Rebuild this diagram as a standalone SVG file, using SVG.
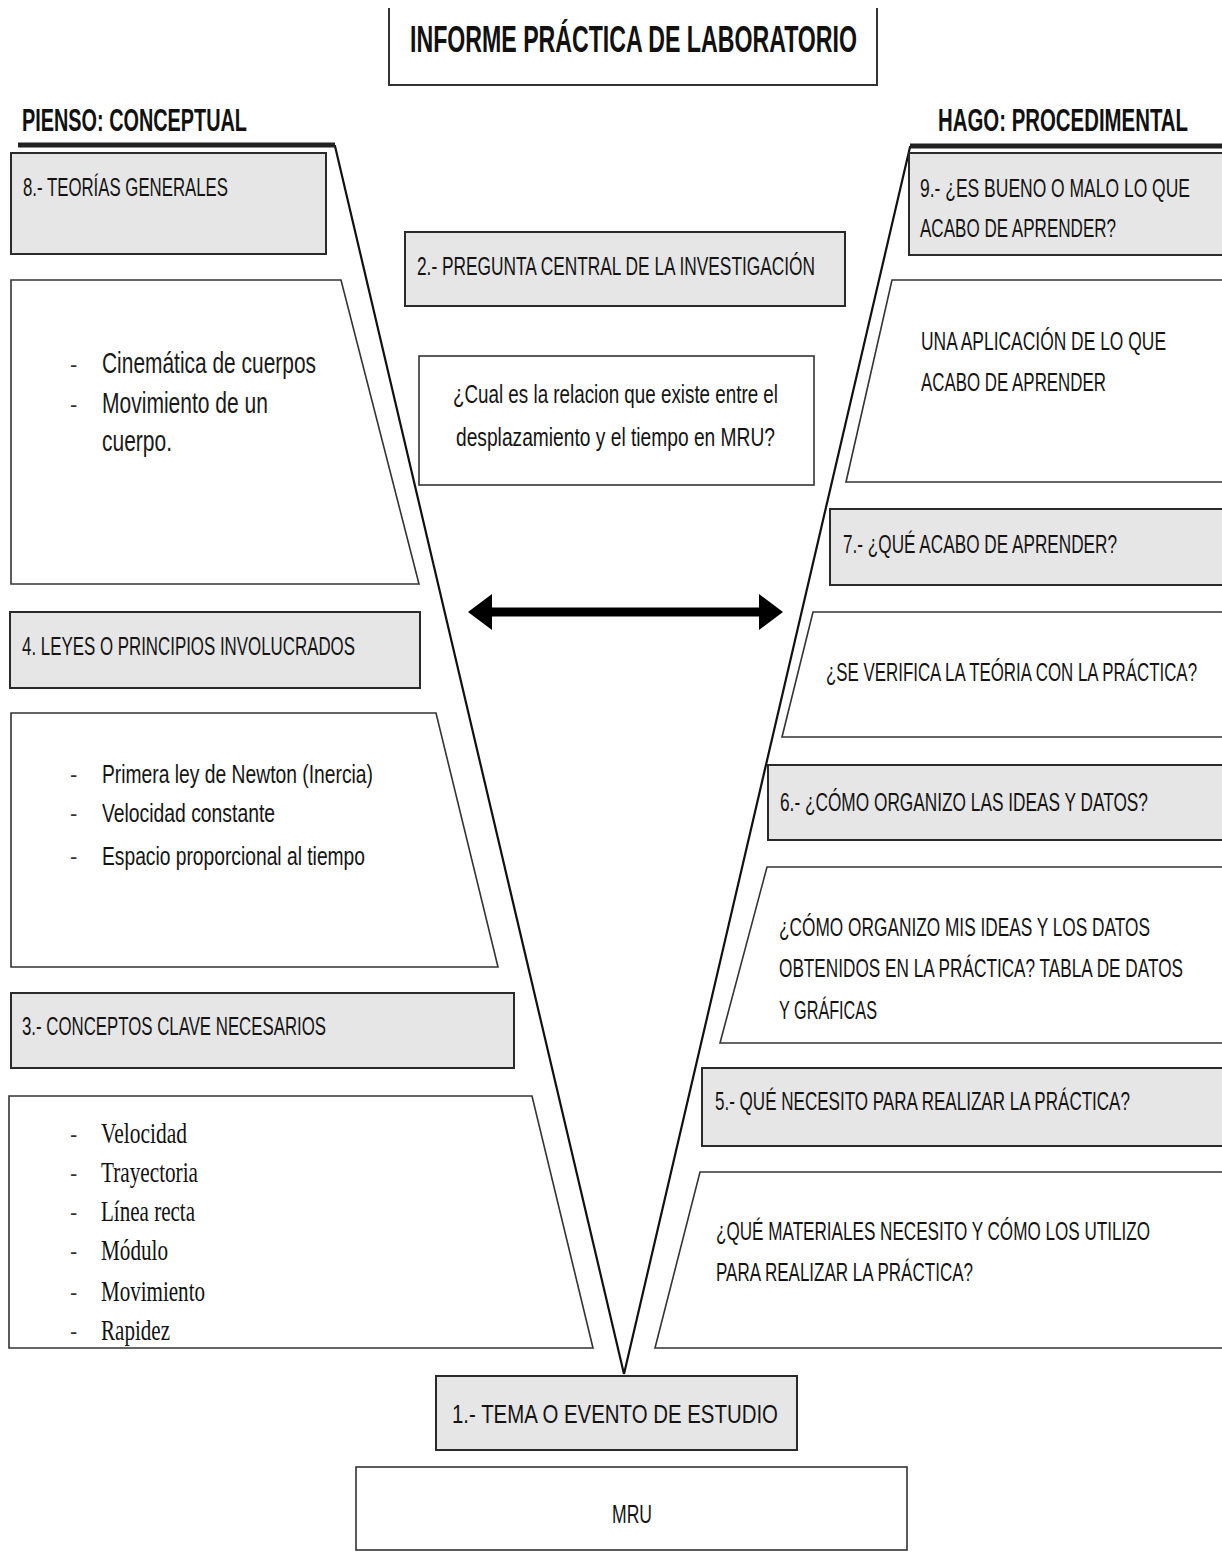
<svg xmlns="http://www.w3.org/2000/svg" width="1222" height="1553" viewBox="0 0 1222 1553">
<style>
.hdr{fill:#e6e6e6;stroke:#2a2a2a;stroke-width:2}
.box{fill:#ffffff;stroke:#333333;stroke-width:1.6}
.t{font-family:"Liberation Sans Narrow","Liberation Sans",Arial,sans-serif;font-size:25px;fill:#141414}
.tr{font-family:"Liberation Sans",Arial,sans-serif;font-size:25px;fill:#141414}
.tb{font-family:"Liberation Sans Narrow","Liberation Sans",Arial,sans-serif;font-weight:bold;fill:#111}
.tbr{font-family:"Liberation Sans",Arial,sans-serif;font-weight:bold;fill:#111}
.ta{font-family:"Liberation Sans Narrow","Liberation Sans",Arial,sans-serif;font-size:30px;fill:#1a1a1a}
.ts{font-family:"Liberation Serif","Times New Roman",serif;font-size:30px;fill:#111}
.bul{font-family:"Liberation Sans",Arial,sans-serif;font-size:22px;fill:#333}
.v{fill:none;stroke:#111;stroke-width:2.2}
</style>
<defs>
<marker id="head" viewBox="0 0 24 36" refX="0" refY="18" markerWidth="24" markerHeight="36" markerUnits="userSpaceOnUse" orient="auto-start-reverse">
<path d="M0,0 L24,18 L0,36 Z" fill="#000"/>
</marker>
</defs>
<rect width="1222" height="1553" fill="#fff"/>

<g id="title">
<path d="M389,8 V85 H877 V8" fill="none" stroke="#333" stroke-width="2"/>
<text class="tb" x="410" y="52" font-size="37" textLength="447" lengthAdjust="spacingAndGlyphs">INFORME PRÁCTICA DE LABORATORIO</text>
</g>
<g id="pienso">
<text class="tb" x="22" y="131" font-size="32" textLength="225" lengthAdjust="spacingAndGlyphs">PIENSO: CONCEPTUAL</text>
</g>
<g id="hago">
<text class="tbr" transform="translate(938,131) scale(0.633,1)" x="0" y="0" font-size="32" textLength="395" lengthAdjust="spacingAndGlyphs">HAGO: PROCEDIMENTAL</text>
</g>

<g id="connectors">
<path class="v" d="M18,146 H335 L624,1374"/>
<path class="v" d="M1224,147 H910 L624,1374"/>
<line x1="18" y1="145" x2="335" y2="145" stroke="#222" stroke-width="5"/>
<line x1="910" y1="146" x2="1224" y2="146" stroke="#222" stroke-width="5"/>
<line x1="492" y1="612" x2="759" y2="612" stroke="#000" stroke-width="9" marker-start="url(#head)" marker-end="url(#head)"/>
</g>

<g id="n8">
<rect class="hdr" x="11" y="153" width="315" height="101"/>
<text class="t" x="23" y="196" textLength="205" lengthAdjust="spacingAndGlyphs">8.- TEORÍAS GENERALES</text>
</g>
<g id="n8c">
<path class="box" d="M11,280 H341 L419,584 H11 Z"/>
<text class="bul" x="70" y="372">-</text>
<text class="ta" x="102" y="373" textLength="214" lengthAdjust="spacingAndGlyphs">Cinemática de cuerpos</text>
<text class="bul" x="70" y="412">-</text>
<text class="ta" x="102" y="413" textLength="166" lengthAdjust="spacingAndGlyphs">Movimiento de un</text>
<text class="ta" x="102" y="451" textLength="70" lengthAdjust="spacingAndGlyphs">cuerpo.</text>
</g>

<g id="n2">
<rect class="hdr" x="405" y="232" width="440" height="74"/>
<text class="t" x="417" y="275" textLength="398" lengthAdjust="spacingAndGlyphs">2.- PREGUNTA CENTRAL DE LA INVESTIGACIÓN</text>
</g>
<g id="n2c">
<rect class="box" x="419" y="356" width="395" height="129"/>
<text class="t" x="453" y="403" textLength="325" lengthAdjust="spacingAndGlyphs">¿Cual es la relacion que existe entre el</text>
<text class="t" x="456" y="446" textLength="319" lengthAdjust="spacingAndGlyphs">desplazamiento y el tiempo en MRU?</text>
</g>

<g id="n9">
<rect class="hdr" x="909" y="153" width="316" height="102"/>
<text class="tr" transform="translate(920,197) scale(0.69,1)" x="0" y="0" textLength="391.3" lengthAdjust="spacingAndGlyphs">9.- ¿ES BUENO O MALO LO QUE</text>
<text class="tr" transform="translate(920,237) scale(0.69,1)" x="0" y="0" textLength="284.1" lengthAdjust="spacingAndGlyphs">ACABO DE APRENDER?</text>
</g>
<g id="n9c">
<path class="box" d="M892,280 H1225 V482 H846 Z"/>
<text class="tr" transform="translate(921,350) scale(0.69,1)" x="0" y="0" textLength="355.1" lengthAdjust="spacingAndGlyphs">UNA APLICACIÓN DE LO QUE</text>
<text class="tr" transform="translate(921,391) scale(0.69,1)" x="0" y="0" textLength="268.1" lengthAdjust="spacingAndGlyphs">ACABO DE APRENDER</text>
</g>

<g id="n7">
<rect class="hdr" x="830" y="509" width="395" height="76"/>
<text class="tr" transform="translate(843,553) scale(0.69,1)" x="0" y="0" textLength="397.1" lengthAdjust="spacingAndGlyphs">7.- ¿QUÉ ACABO DE APRENDER?</text>
</g>
<g id="n7c">
<path class="box" d="M813,612 H1225 V737 H782 Z"/>
<text class="tr" transform="translate(826,681) scale(0.69,1)" x="0" y="0" textLength="537.7" lengthAdjust="spacingAndGlyphs">¿SE VERIFICA LA TEÓRIA CON LA PRÁCTICA?</text>
</g>

<g id="n4">
<rect class="hdr" x="10" y="612" width="410" height="76"/>
<text class="t" x="22" y="655" textLength="333" lengthAdjust="spacingAndGlyphs">4. LEYES O PRINCIPIOS INVOLUCRADOS</text>
</g>
<g id="n4c">
<path class="box" d="M11,713 H436 L498,967 H11 Z"/>
<text class="bul" x="70" y="782">-</text>
<text class="t" x="102" y="783" textLength="271" lengthAdjust="spacingAndGlyphs">Primera ley de Newton (Inercia)</text>
<text class="bul" x="70" y="821">-</text>
<text class="t" x="102" y="822" textLength="173" lengthAdjust="spacingAndGlyphs">Velocidad constante</text>
<text class="bul" x="70" y="864">-</text>
<text class="t" x="102" y="865" textLength="263" lengthAdjust="spacingAndGlyphs">Espacio proporcional al tiempo</text>
</g>

<g id="n6">
<rect class="hdr" x="768" y="765" width="457" height="75"/>
<text class="tr" transform="translate(780,811) scale(0.69,1)" x="0" y="0" textLength="533.3" lengthAdjust="spacingAndGlyphs">6.- ¿CÓMO ORGANIZO LAS IDEAS Y DATOS?</text>
</g>
<g id="n6c">
<path class="box" d="M767,867 H1225 V1043 H720 Z"/>
<text class="tr" transform="translate(779,936) scale(0.69,1)" x="0" y="0" textLength="537.7" lengthAdjust="spacingAndGlyphs">¿CÓMO ORGANIZO MIS IDEAS Y LOS DATOS</text>
<text class="tr" transform="translate(779,977) scale(0.69,1)" x="0" y="0" textLength="585.5" lengthAdjust="spacingAndGlyphs">OBTENIDOS EN LA PRÁCTICA? TABLA DE DATOS</text>
<text class="tr" transform="translate(779,1019) scale(0.69,1)" x="0" y="0" textLength="142" lengthAdjust="spacingAndGlyphs">Y GRÁFICAS</text>
</g>

<g id="n3">
<rect class="hdr" x="11" y="993" width="503" height="75"/>
<text class="t" x="22" y="1035" textLength="304" lengthAdjust="spacingAndGlyphs">3.- CONCEPTOS CLAVE NECESARIOS</text>
</g>
<g id="n3c">
<path class="box" d="M9,1096 H532 L593,1348 H9 Z"/>
<text class="bul" x="70" y="1142">-</text>
<text class="ts" x="101" y="1143" textLength="86" lengthAdjust="spacingAndGlyphs">Velocidad</text>
<text class="bul" x="70" y="1181">-</text>
<text class="ts" x="101" y="1182" textLength="97" lengthAdjust="spacingAndGlyphs">Trayectoria</text>
<text class="bul" x="70" y="1220">-</text>
<text class="ts" x="101" y="1221" textLength="94" lengthAdjust="spacingAndGlyphs">Línea recta</text>
<text class="bul" x="70" y="1259">-</text>
<text class="ts" x="101" y="1260" textLength="67" lengthAdjust="spacingAndGlyphs">Módulo</text>
<text class="bul" x="70" y="1300">-</text>
<text class="ts" x="101" y="1301" textLength="104" lengthAdjust="spacingAndGlyphs">Movimiento</text>
<text class="bul" x="70" y="1339">-</text>
<text class="ts" x="101" y="1340" textLength="69" lengthAdjust="spacingAndGlyphs">Rapidez</text>
</g>

<g id="n5">
<rect class="hdr" x="702" y="1068" width="523" height="78"/>
<text class="tr" transform="translate(715,1110) scale(0.69,1)" x="0" y="0" textLength="601.4" lengthAdjust="spacingAndGlyphs">5.- QUÉ NECESITO PARA REALIZAR LA PRÁCTICA?</text>
</g>
<g id="n5c">
<path class="box" d="M700,1172 H1225 V1348 H655 Z"/>
<text class="tr" transform="translate(716,1240) scale(0.69,1)" x="0" y="0" textLength="629" lengthAdjust="spacingAndGlyphs">¿QUÉ MATERIALES NECESITO Y CÓMO LOS UTILIZO</text>
<text class="tr" transform="translate(716,1281) scale(0.69,1)" x="0" y="0" textLength="372.5" lengthAdjust="spacingAndGlyphs">PARA REALIZAR LA PRÁCTICA?</text>
</g>

<g id="n1">
<rect class="hdr" x="436" y="1376" width="361" height="74"/>
<text class="t" x="452" y="1423" font-size="31" textLength="326" lengthAdjust="spacingAndGlyphs">1.- TEMA O EVENTO DE ESTUDIO</text>
</g>
<g id="n1c">
<rect class="box" x="356" y="1467" width="551" height="83"/>
<text class="t" x="612" y="1523" textLength="40" lengthAdjust="spacingAndGlyphs">MRU</text>
</g>
</svg>
